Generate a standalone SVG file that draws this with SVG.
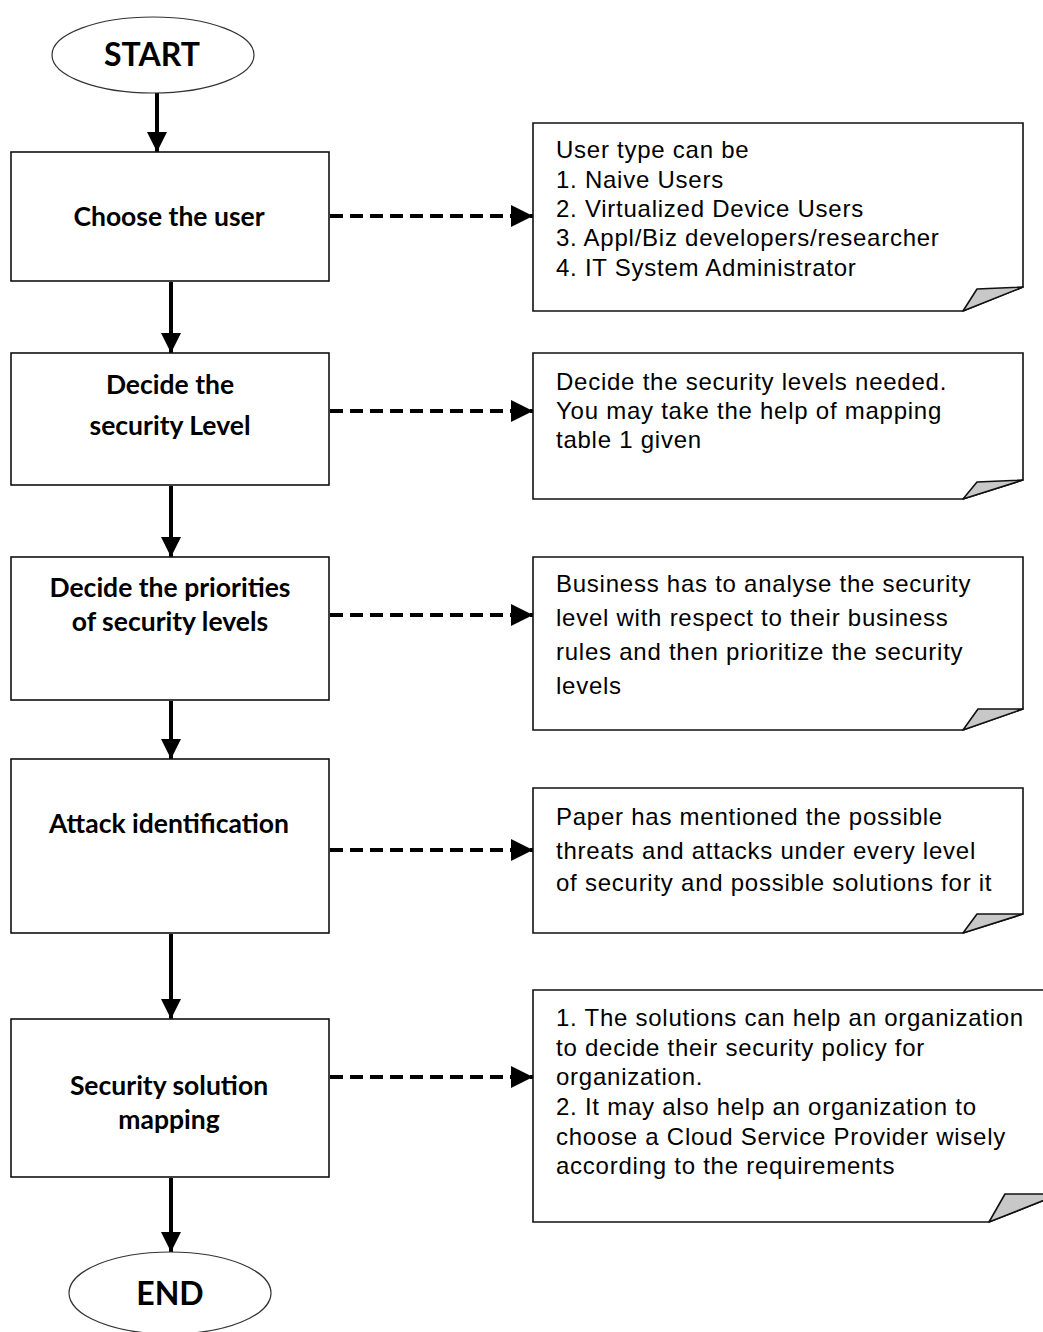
<svg xmlns="http://www.w3.org/2000/svg" width="1043" height="1332" viewBox="0 0 1043 1332">
<style>
.term{fill:#fff;stroke:#333;stroke-width:1.2}
.box{fill:#fff;stroke:#111;stroke-width:1.6}
.note{fill:#fff;stroke:#111;stroke-width:1.6}
.fold{fill:#c8c8c8;stroke:#111;stroke-width:1.6;stroke-linejoin:round}
.bt{font-family:Lato,"Noto Sans",sans-serif;font-weight:bold;font-size:26.5px;fill:#000;text-anchor:middle}
.tt{font-family:Lato,"Noto Sans",sans-serif;font-weight:bold;font-size:32px;fill:#000;text-anchor:middle}
.nt{font-family:"Liberation Sans",Arial,sans-serif;font-size:24px;fill:#000;letter-spacing:0.75px}
.flow{stroke:#000;stroke-width:4;fill:none}
.dash{stroke:#000;stroke-width:4;fill:none;stroke-dasharray:13 7}
</style>
<defs>
<marker id="ah" markerUnits="userSpaceOnUse" markerWidth="20" markerHeight="20" refX="20" refY="10" orient="auto" viewBox="0 0 20 20">
<path d="M0,0 L20,10 L0,20 Z" fill="#000"/>
</marker>
<marker id="ahd" markerUnits="userSpaceOnUse" markerWidth="22" markerHeight="22" refX="22" refY="11" orient="auto" viewBox="0 0 22 22">
<path d="M0,0 L22,11 L0,22 Z" fill="#000"/>
</marker>
</defs>

<g id="connectors">
<line class="flow" x1="157" y1="93" x2="157" y2="152" marker-end="url(#ah)"/>
<line class="flow" x1="171" y1="282" x2="171" y2="353" marker-end="url(#ah)"/>
<line class="flow" x1="171" y1="486" x2="171" y2="557" marker-end="url(#ah)"/>
<line class="flow" x1="171" y1="701" x2="171" y2="759" marker-end="url(#ah)"/>
<line class="flow" x1="171" y1="934" x2="171" y2="1019" marker-end="url(#ah)"/>
<line class="flow" x1="171" y1="1178" x2="171" y2="1252" marker-end="url(#ah)"/>
<line class="dash" x1="330" y1="216" x2="533" y2="216" marker-end="url(#ahd)"/>
<line class="dash" x1="330" y1="411" x2="533" y2="411" marker-end="url(#ahd)"/>
<line class="dash" x1="330" y1="615" x2="533" y2="615" marker-end="url(#ahd)"/>
<line class="dash" x1="330" y1="850" x2="533" y2="850" marker-end="url(#ahd)"/>
<line class="dash" x1="330" y1="1077" x2="533" y2="1077" marker-end="url(#ahd)"/>
</g>

<g id="start">
<ellipse class="term" cx="153" cy="55" rx="101" ry="38"/>
<text class="tt" x="152" y="66">START</text>
</g>

<g id="choose-user">
<rect class="box" x="11" y="152" width="318" height="129"/>
<text class="bt" x="169" y="226">Choose the user</text>
</g>

<g id="decide-level">
<rect class="box" x="11" y="353" width="318" height="132"/>
<text class="bt" x="170" y="394">Decide the</text>
<text class="bt" x="170" y="435">security Level</text>
</g>

<g id="decide-priorities">
<rect class="box" x="11" y="557" width="318" height="143"/>
<text class="bt" x="170" y="597">Decide the priorities</text>
<text class="bt" x="170" y="631">of security levels</text>
</g>

<g id="attack-identification">
<rect class="box" x="11" y="759" width="318" height="174"/>
<text class="bt" x="169" y="833">Attack identification</text>
</g>

<g id="solution-mapping">
<rect class="box" x="11" y="1019" width="318" height="158"/>
<text class="bt" x="169" y="1095">Security solution</text>
<text class="bt" x="169" y="1129">mapping</text>
</g>

<g id="end">
<ellipse class="term" cx="170" cy="1293" rx="101" ry="41"/>
<text class="tt" x="170" y="1305">END</text>
</g>

<g id="note-user">
<path class="note" d="M533,123 H1023 V287 L963,311 H533 Z"/>
<polygon class="fold" points="963,311 977,289 1023,287"/>
<text class="nt" x="556" y="158">User type can be</text>
<text class="nt" x="556" y="188">1. Naive Users</text>
<text class="nt" x="556" y="217">2. Virtualized Device Users</text>
<text class="nt" x="556" y="246">3. Appl/Biz developers/researcher</text>
<text class="nt" x="556" y="276">4. IT System Administrator</text>
</g>

<g id="note-level">
<path class="note" d="M533,353 H1023 V480 L963,499 H533 Z"/>
<polygon class="fold" points="963,499 977,482 1023,480"/>
<text class="nt" x="556" y="390">Decide the security levels needed.</text>
<text class="nt" x="556" y="419">You may take the help of mapping</text>
<text class="nt" x="556" y="448">table 1 given</text>
</g>

<g id="note-priorities">
<path class="note" d="M533,557 H1023 V709 L963,730 H533 Z"/>
<polygon class="fold" points="963,730 978,709 1023,709"/>
<text class="nt" x="556" y="592">Business has to analyse the security</text>
<text class="nt" x="556" y="626">level with respect to their business</text>
<text class="nt" x="556" y="660">rules and then prioritize the security</text>
<text class="nt" x="556" y="694">levels</text>
</g>

<g id="note-attack">
<path class="note" d="M533,788 H1023 V914 L963,933 H533 Z"/>
<polygon class="fold" points="963,933 977,914 1023,914"/>
<text class="nt" x="556" y="825">Paper has mentioned the possible</text>
<text class="nt" x="556" y="859">threats and attacks under every level</text>
<text class="nt" x="556" y="891">of security and possible solutions for it</text>
</g>

<g id="note-solution">
<path class="note" d="M533,990 H1060 V1194 L989,1222 H533 Z"/>
<polygon class="fold" points="989,1222 1005,1194 1060,1194"/>
<text class="nt" x="556" y="1026">1. The solutions can help an organization</text>
<text class="nt" x="556" y="1056">to decide their security policy for</text>
<text class="nt" x="556" y="1085">organization.</text>
<text class="nt" x="556" y="1115">2. It may also help an organization to</text>
<text class="nt" x="556" y="1145">choose a Cloud Service Provider wisely</text>
<text class="nt" x="556" y="1174">according to the requirements</text>
</g>
</svg>
